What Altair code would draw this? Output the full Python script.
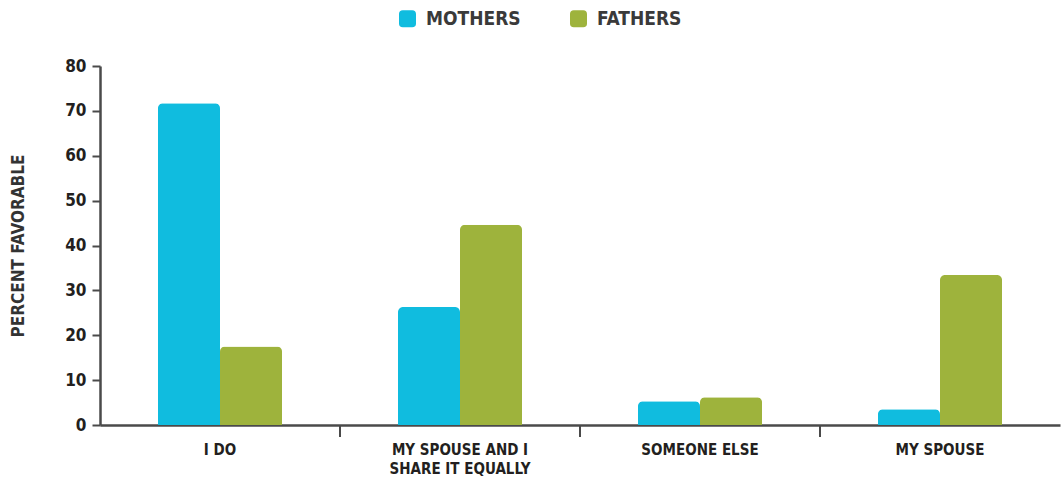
import altair as alt
import pandas as pd

categories = ["I DO", "MY SPOUSE AND I SHARE IT EQUALLY", "SOMEONE ELSE", "MY SPOUSE"]
series = ["MOTHERS", "FATHERS"]
mothers = [71.7, 26.3, 5.3, 3.5]
fathers = [17.5, 44.6, 6.2, 33.4]
y_ticks = [0, 10, 20, 30, 40, 50, 60, 70, 80]
colors = ["#10BCDF", "#9EB33C"]

rows = []
for i, c in enumerate(categories):
    rows.append({"cat": c, "group": "MOTHERS", "value": mothers[i]})
    rows.append({"cat": c, "group": "FATHERS", "value": fathers[i]})
df = pd.DataFrame(rows)
tick_df = pd.DataFrame({"cat": categories[1:]})

FONT = "DejaVu Sans Condensed, Roboto, sans-serif"
rounded = "M -0.55 -1 L 0.55 -1 Q 1 -1 1 -0.55 L 1 0.55 Q 1 1 0.55 1 L -0.55 1 Q -1 1 -1 0.55 L -1 -0.55 Q -1 -1 -0.55 -1 Z"

xscale = alt.Scale(domain=categories, paddingInner=0, paddingOuter=0)

bars = alt.Chart(df).mark_bar(cornerRadiusTopLeft=5, cornerRadiusTopRight=5).encode(
    x=alt.X("cat:N", scale=xscale, sort=categories,
            axis=alt.Axis(title=None, labelAngle=0, ticks=False, domainWidth=2.5, domainColor="#4a4a4a",
                          labelFont=FONT, labelFontSize=15, labelFontWeight="bold", labelColor="#231F20",
                          labelPadding=17, labelLineHeight=19, labelBaseline="top",
                          labelExpr="datum.label == 'MY SPOUSE AND I SHARE IT EQUALLY' ? ['MY SPOUSE AND I', 'SHARE IT EQUALLY'] : datum.label")),
    xOffset=alt.XOffset("group:N", sort=series, scale=alt.Scale(domain=series, paddingInner=0, paddingOuter=0.935)),
    y=alt.Y("value:Q", scale=alt.Scale(domain=[0, 80], nice=False),
            axis=alt.Axis(title="PERCENT FAVORABLE", values=y_ticks, grid=False, domainWidth=2.5, domainColor="#4a4a4a",
                          tickSize=8, tickWidth=2, tickColor="#4a4a4a",
                          labelFont=FONT, labelFontSize=17, labelFontWeight="bold", labelColor="#231F20", labelPadding=6,
                          titleFont=FONT, titleFontSize=17, titleFontWeight="bold", titleColor="#333333", titlePadding=37)),
    color=alt.Color("group:N", sort=series, scale=alt.Scale(domain=series, range=colors),
                    legend=alt.Legend(title=None, orient="none", direction="horizontal", legendX=298, legendY=-57,
                                      padding=0, symbolType=rounded, symbolSize=289, symbolStrokeWidth=0,
                                      labelFont=FONT, labelFontSize=19, labelFontWeight="bold", labelColor="#3a3a3a",
                                      labelOffset=9, columnPadding=48)),
)

ticks = alt.Chart(tick_df).mark_rule(color="#4a4a4a", strokeWidth=2).encode(
    x=alt.X("cat:N", scale=xscale, sort=categories, bandPosition=0),
    y=alt.value(359),
    y2=alt.value(371),
)

chart = alt.layer(bars, ticks).properties(
    width=960, height=359,
    autosize=alt.AutoSizeParams(type="none"),
    padding={"left": 100, "top": 66, "right": 3, "bottom": 56},
).configure(background="white").configure_view(stroke=None)

chart.save("out.html", embed_options={"renderer": "svg", "actions": False})
